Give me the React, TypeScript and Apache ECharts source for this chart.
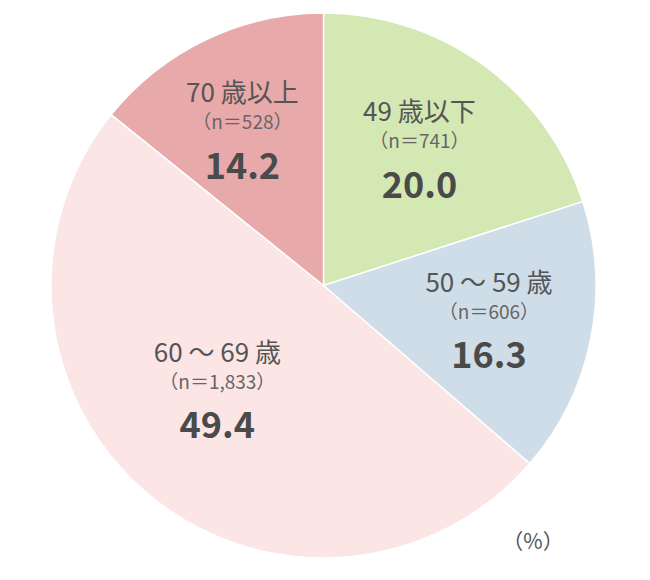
import React, { useEffect, useRef } from "react";
import * as echarts from "echarts";

const categories = ["49 歳以下", "50 ～ 59 歳", "60 ～ 69 歳", "70 歳以上"];
const counts = ["741", "606", "1,833", "528"];
const values = [20.0, 16.3, 49.4, 14.2];
const colors = ["#d3e8b3", "#cedde8", "#fbe5e5", "#e8a9aa"];

// label nudges from the default "inside" spot
const labelShift = [
  [14, -21],
  [29, 9],
  [-17, 0],
  [-21, -27],
];

const FONT = "'Noto Sans CJK JP', 'Noto Sans', sans-serif";

const App: React.FC = () => {
  const chartRef = useRef<HTMLDivElement>(null);

  useEffect(() => {
    const chart = echarts.init(chartRef.current!, undefined, { renderer: "svg" });
    chart.setOption({
      animation: false,
      series: [
        {
          type: "pie",
          center: [323.5, 285.5],
          radius: 272.5,
          startAngle: 90,
          clockwise: true,
          avoidLabelOverlap: false,
          itemStyle: { borderColor: "#fff", borderWidth: 1.5 },
          emphasis: { disabled: true },
          label: {
            show: true,
            position: "inside",
            fontFamily: FONT,
            formatter: (p: any) =>
              `{a|${p.name}}\n{b|（n＝${counts[p.dataIndex]}）}\n{c|${p.value.toFixed(1)}}`,
            rich: {
              a: { fontSize: 26, color: "#555", lineHeight: 30, fontFamily: FONT },
              b: { fontSize: 19, color: "#666", lineHeight: 30, fontFamily: FONT },
              c: {
                fontSize: 36,
                fontWeight: "bold",
                color: "#4a4a4a",
                lineHeight: 54,
                fontFamily: FONT,
              },
            },
          },
          labelLine: { show: false },
          labelLayout: (p: any) => ({
            dx: labelShift[p.dataIndex][0],
            dy: labelShift[p.dataIndex][1],
          }),
          data: categories.map((name, i) => ({
            name,
            value: values[i],
            itemStyle: { color: colors[i] },
          })),
        },
      ],
      graphic: [
        {
          type: "text",
          x: 533,
          y: 540,
          style: {
            text: "（%）",
            fontSize: 21,
            fontFamily: FONT,
            fill: "#555",
            align: "center",
            verticalAlign: "middle",
          },
        },
      ],
    });
    return () => chart.dispose();
  }, []);

  return (
    <div
      ref={chartRef}
      style={{ position: "absolute", left: 0, top: 0, width: 650, height: 580 }}
    />
  );
};

export default App;
